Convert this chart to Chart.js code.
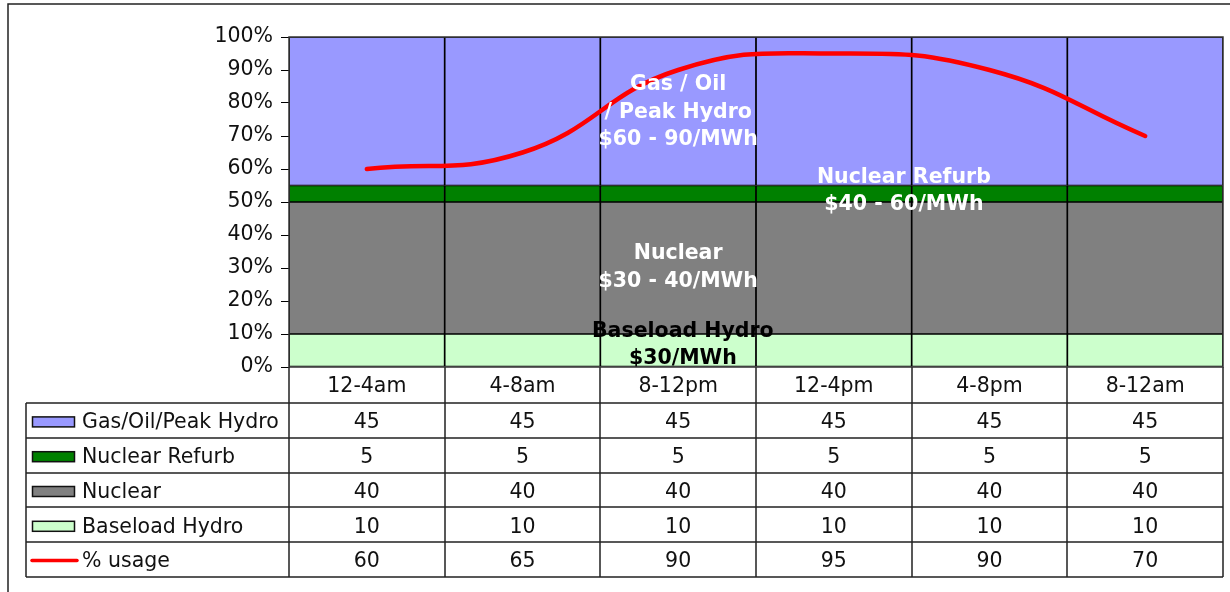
<!DOCTYPE html>
<html>
<head>
<meta charset="utf-8">
<script src="https://cdn.jsdelivr.net/npm/chart.js@4/dist/chart.umd.min.js"></script>
<style>
  html, body { margin: 0; padding: 0; background: #fff; }
  #wrap { width: 1230px; height: 592px; }
</style>
</head>
<body>
<div id="wrap"><canvas id="c" width="1230" height="592"></canvas></div>
<script>
// Time-of-day blocks
const categories = ['12-4am', '4-8am', '8-12pm', '12-4pm', '4-8pm', '8-12am'];

// Share of supply by source (%)
const gasOilPeakHydro = [45, 45, 45, 45, 45, 45];
const nuclearRefurb   = [5, 5, 5, 5, 5, 5];
const nuclear         = [40, 40, 40, 40, 40, 40];
const baseloadHydro   = [10, 10, 10, 10, 10, 10];

// Demand as % of capacity
const usage = [60, 65, 90, 95, 90, 70];

// Y-axis tick values
const yTicks = [0, 10, 20, 30, 40, 50, 60, 70, 80, 90, 100];

const FONT = '"DejaVu Sans", Verdana, sans-serif';

const COLORS = {
  gas: '#9999FF',
  refurb: '#008000',
  nuclear: '#808080',
  baseload: '#CCFFCC',
  usage: '#FF0000'
};

// Rows of the data table underneath the chart
const tableRows = [
  { name: 'Gas/Oil/Peak Hydro', values: gasOilPeakHydro, color: COLORS.gas },
  { name: 'Nuclear Refurb', values: nuclearRefurb, color: COLORS.refurb },
  { name: 'Nuclear', values: nuclear, color: COLORS.nuclear },
  { name: 'Baseload Hydro', values: baseloadHydro, color: COLORS.baseload },
  { name: '% usage', values: usage, color: COLORS.usage, line: true }
];

// In-chart captions: category position and value position of the middle of the block
const captions = [
  { x: 2.0, y: 77.2, color: '#fff', lines: ['Gas / Oil', '/ Peak Hydro', '$60 - 90/MWh'] },
  { x: 3.45, y: 53.2, color: '#fff', lines: ['Nuclear Refurb', '$40 - 60/MWh'] },
  { x: 2.0, y: 30.1, color: '#fff', lines: ['Nuclear', '$30 - 40/MWh'] },
  { x: 2.03, y: 6.6, color: '#000', lines: ['Baseload Hydro', '$30/MWh'] }
];

const captionPlugin = {
  id: 'captions',
  afterDatasetsDraw(chart) {
    const { ctx, chartArea: ca, scales: { x, y } } = chart;
    ctx.save();
    ctx.beginPath();
    ctx.rect(ca.left, ca.top, ca.right - ca.left, ca.bottom - ca.top);
    ctx.clip();
    ctx.font = 'bold 20.5px ' + FONT;
    ctx.textAlign = 'center';
    ctx.textBaseline = 'middle';
    const lh = 27.3;
    captions.forEach(c => {
      const cx = x.getPixelForValue(c.x);
      const cy = y.getPixelForValue(c.y);
      const top = cy - (c.lines.length - 1) * lh / 2;
      ctx.fillStyle = c.color;
      c.lines.forEach((t, i) => ctx.fillText(t, cx, top + i * lh));
    });
    ctx.restore();
  }
};

const tablePlugin = {
  id: 'dataTable',
  beforeDraw(chart) {
    const { ctx } = chart;
    ctx.save();
    ctx.fillStyle = '#fff';
    ctx.fillRect(0, 0, chart.width, chart.height);
    // outer frame
    ctx.strokeStyle = '#222';
    ctx.lineWidth = 1.5;
    ctx.beginPath();
    ctx.moveTo(8, chart.height);
    ctx.lineTo(8, 4);
    ctx.lineTo(chart.width, 4);
    ctx.stroke();
    ctx.restore();
  },
  afterDraw(chart) {
    const { ctx, chartArea: ca, scales: { x } } = chart;
    const n = categories.length;
    const colW = (ca.right - ca.left) / n;
    const headTop = ca.bottom;
    const headBottom = ca.bottom + 36;
    const rowH = 34.8;
    const tableLeft = 26;
    const tableBottom = headBottom + rowH * tableRows.length;

    ctx.save();
    ctx.font = '20.5px ' + FONT;
    ctx.fillStyle = '#111';
    ctx.textBaseline = 'middle';
    ctx.textAlign = 'center';

    // category header
    categories.forEach((c, i) => {
      ctx.fillText(c, x.getPixelForValue(i), (headTop + headBottom) / 2 + 2);
    });

    // rows
    tableRows.forEach((r, ri) => {
      const rTop = headBottom + ri * rowH;
      const cy = rTop + rowH / 2 + 2.5;
      ctx.textAlign = 'center';
      ctx.fillStyle = '#111';
      r.values.forEach((v, i) => ctx.fillText(String(v), x.getPixelForValue(i), cy));
      ctx.textAlign = 'left';
      ctx.fillText(r.name, 82, cy);
      if (r.line) {
        ctx.strokeStyle = r.color;
        ctx.lineWidth = 3.5;
        ctx.lineCap = 'round';
        ctx.beginPath();
        ctx.moveTo(32, cy - 1.5);
        ctx.lineTo(77, cy - 1.5);
        ctx.stroke();
        ctx.lineCap = 'butt';
      } else {
        ctx.fillStyle = r.color;
        ctx.fillRect(32.5, cy - 6, 42, 10);
        ctx.strokeStyle = '#111';
        ctx.lineWidth = 1.5;
        ctx.strokeRect(32.5, cy - 6, 42, 10);
      }
    });

    // grid lines
    ctx.strokeStyle = '#222';
    ctx.lineWidth = 1.5;
    ctx.beginPath();
    for (let ri = 0; ri <= tableRows.length; ri++) {
      const yy = Math.round(headBottom + ri * rowH);
      ctx.moveTo(tableLeft, yy);
      ctx.lineTo(ca.right, yy);
    }
    for (let i = 0; i <= n; i++) {
      const xx = Math.round(ca.left + i * colW);
      ctx.moveTo(xx, headTop);
      ctx.lineTo(xx, tableBottom);
    }
    ctx.moveTo(tableLeft, headBottom);
    ctx.lineTo(tableLeft, tableBottom);
    ctx.stroke();

    // plot frame
    ctx.strokeStyle = '#333';
    ctx.lineWidth = 1.5;
    ctx.strokeRect(ca.left, ca.top, ca.right - ca.left, ca.bottom - ca.top);
    ctx.restore();
  }
};

const barDefaults = { borderColor: '#000', borderWidth: 1.2, borderSkipped: false, stack: 'supply', order: 2,
  categoryPercentage: 1.0, barPercentage: 1.0 };

new Chart(document.getElementById('c'), {
  type: 'bar',
  data: {
    labels: categories,
    datasets: [
      { ...barDefaults, label: 'Baseload Hydro', data: baseloadHydro, backgroundColor: COLORS.baseload },
      { ...barDefaults, label: 'Nuclear', data: nuclear, backgroundColor: COLORS.nuclear },
      { ...barDefaults, label: 'Nuclear Refurb', data: nuclearRefurb, backgroundColor: COLORS.refurb },
      { ...barDefaults, label: 'Gas/Oil/Peak Hydro', data: gasOilPeakHydro, backgroundColor: COLORS.gas },
      { type: 'line', label: '% usage', data: usage, borderColor: COLORS.usage, borderWidth: 4.5,
        pointRadius: 0, tension: 0.45, stack: 'usage', order: 0, borderCapStyle: 'round' }
    ]
  },
  options: {
    responsive: false,
    animation: false,
    layout: { padding: { top: 37, bottom: 225, left: 0, right: 7 } },
    plugins: { legend: { display: false }, tooltip: { enabled: false } },
    scales: {
      x: { display: false, stacked: true },
      y: {
        stacked: true,
        min: 0, max: 100,
        afterBuildTicks(s) { s.ticks = yTicks.map(v => ({ value: v })); },
        afterFit(s) { s.width = 289; },
        border: { display: true, color: '#000', width: 1 },
        grid: { display: true, drawOnChartArea: false, drawTicks: true, tickLength: 8, color: '#000' },
        ticks: { padding: 8, color: '#111', font: { family: FONT, size: 20.5 }, callback: v => v + '%' }
      }
    }
  },
  plugins: [tablePlugin, captionPlugin]
});
</script>
</body>
</html>
